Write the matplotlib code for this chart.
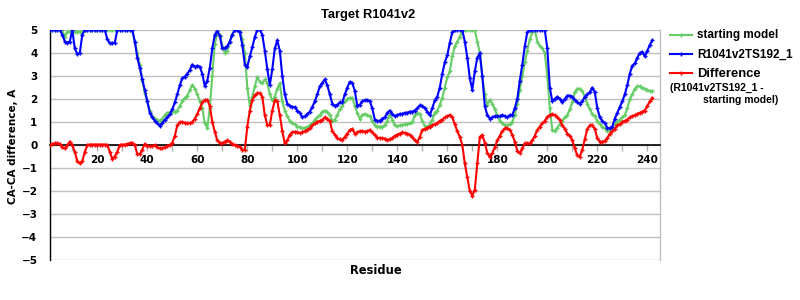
import matplotlib
matplotlib.use('Agg')
import matplotlib.pyplot as plt
from matplotlib.lines import Line2D
from matplotlib.ticker import FixedLocator

residues = list(range(1, 243))

starting_model = [
    5.0, 5.0, 5.0, 5.0, 5.0, 5.0, 4.7, 4.92, 4.93, 4.93,
    4.93, 4.93, 4.93, 4.93, 5.0, 5.0, 5.0, 5.0, 5.0, 5.0,
    5.0, 5.0, 5.0, 5.0, 5.0, 5.0, 5.0, 5.0, 5.0, 5.0,
    5.0, 5.0, 5.0, 5.0, 4.5, 4.0, 3.5, 2.8, 2.25, 1.9,
    1.5, 1.25, 1.15, 1.1, 1.05, 1.15, 1.3, 1.4, 1.42, 1.42,
    1.45, 1.5, 1.7, 1.9, 2.05, 2.15, 2.4, 2.6, 2.45, 2.2,
    1.9, 1.6, 0.95, 0.75, 1.6, 3.0, 4.4, 4.85, 4.8, 4.3,
    4.0, 4.1, 4.5, 4.8, 5.0, 5.0, 5.0, 4.6, 4.0, 2.5,
    1.7, 2.1, 2.55, 2.95, 2.75, 2.7, 2.85, 2.7, 2.2, 1.95,
    2.1, 2.45, 2.68, 1.9, 1.5, 1.25, 1.05, 0.95, 0.9, 0.8,
    0.77, 0.72, 0.75, 0.78, 0.85, 0.95, 1.1, 1.2, 1.3, 1.45,
    1.5, 1.45, 1.3, 1.05, 1.1, 1.3, 1.55, 1.7, 1.9, 2.0,
    2.05, 2.05, 1.7, 1.4, 1.15, 1.3, 1.35, 1.3, 1.25, 1.05,
    0.85, 0.8, 0.8, 0.8, 0.85, 1.05, 1.3, 1.1, 0.85, 0.82,
    0.85, 0.87, 0.9, 0.92, 0.95, 0.98, 1.3, 1.38, 1.35, 1.05,
    0.82, 0.8, 0.9, 1.1, 1.4, 1.5, 1.74, 2.05, 2.5, 2.95,
    3.2, 3.85, 4.3, 4.5, 4.7, 4.95, 5.0, 5.0, 5.0, 5.0,
    5.0, 4.5, 4.0, 3.0, 2.2, 1.75, 1.95, 1.8, 1.55, 1.3,
    1.05, 0.95, 0.85, 0.85, 0.9, 1.0, 1.3, 1.8, 2.4, 3.0,
    3.6, 4.1, 4.6, 4.9, 5.0, 4.5, 4.3, 4.2, 4.0, 3.0,
    1.6, 0.65, 0.6, 0.75, 0.9, 1.05, 1.2, 1.3, 1.55, 1.85,
    2.3, 2.45, 2.45, 2.35, 2.1, 1.8, 1.55, 1.35, 1.25, 1.05,
    0.9, 0.8, 0.72, 0.6, 0.65, 0.8, 0.9, 1.0, 1.1, 1.2,
    1.3, 1.6, 2.0, 2.2, 2.45, 2.55, 2.55, 2.5, 2.45, 2.4,
    2.35, 2.35,
]

ts192 = [
    5.0, 5.0, 5.0, 5.0, 5.0, 4.8, 4.5, 4.45, 4.5, 5.0,
    4.2, 3.95, 4.0, 4.8, 5.0, 5.0, 5.0, 5.0, 5.0, 5.0,
    5.0, 5.0, 5.0, 4.6, 4.42, 4.42, 4.45, 5.0, 5.0, 5.0,
    5.0, 5.0, 5.0, 5.0, 4.5, 3.8, 3.35, 2.85, 2.4, 1.9,
    1.4, 1.2, 1.05, 0.95, 0.84, 0.95, 1.1, 1.2, 1.33, 1.55,
    1.85, 2.2, 2.6, 2.9, 2.97, 3.1, 3.26, 3.5, 3.4, 3.45,
    3.4, 3.1, 2.55, 2.8, 3.35, 4.2, 4.8, 4.95, 4.75, 4.2,
    4.2, 4.3, 4.5, 4.8, 5.0, 5.0, 4.9, 4.35, 3.5, 3.4,
    3.85, 4.25, 4.7, 5.0, 5.0, 4.8, 4.1, 3.3, 2.6, 3.3,
    4.2, 4.55, 4.1, 3.0, 2.2, 1.8, 1.7, 1.65, 1.65, 1.5,
    1.4, 1.2, 1.25, 1.35, 1.45, 1.65, 1.9, 2.2, 2.55, 2.7,
    2.85, 2.6, 2.2, 1.8, 1.7, 1.75, 1.85, 1.85, 2.2, 2.5,
    2.75, 2.7, 2.35, 1.7, 1.75, 1.9, 1.95, 1.95, 1.9, 1.6,
    1.1, 1.05, 1.05, 1.15, 1.2, 1.4, 1.5, 1.35, 1.25, 1.3,
    1.35, 1.35, 1.4, 1.4, 1.45, 1.45, 1.5, 1.6, 1.72, 1.7,
    1.6, 1.45, 1.3, 1.6, 1.95, 2.1, 2.5, 3.1, 3.6, 3.9,
    4.45, 4.9, 5.0, 5.0, 5.0, 5.0, 4.5, 3.8, 2.9, 2.4,
    3.2, 3.8, 4.0, 3.0, 1.7, 1.3, 1.15, 1.2, 1.25, 1.25,
    1.25, 1.3, 1.25, 1.2, 1.3, 1.3, 1.6, 2.0, 2.8, 3.5,
    4.3, 4.9, 5.0, 5.0, 5.0, 5.0, 5.0, 5.0, 5.0, 4.2,
    2.5, 1.9, 2.0, 2.1, 2.0, 1.85, 2.0, 2.15, 2.15, 2.1,
    1.95, 1.85, 1.8, 1.9, 2.1, 2.2, 2.3, 2.5, 2.3, 1.6,
    1.2, 1.05, 0.95, 0.75, 0.72, 0.8, 1.15, 1.4, 1.65, 1.9,
    2.2, 2.6, 3.1, 3.45, 3.55, 3.8, 4.0, 4.05, 3.85, 4.1,
    4.35, 4.55,
]

difference = [
    0.0, 0.05, 0.07, 0.08, 0.05, -0.1, -0.15, 0.0, 0.15, 0.0,
    -0.3, -0.7, -0.8, -0.7, -0.3, 0.0, 0.02, 0.02, 0.02, 0.02,
    0.02, 0.02, 0.02, 0.0, -0.3, -0.6, -0.5, -0.3, 0.0, 0.02,
    0.02, 0.05, 0.08, 0.1, 0.0, -0.4, -0.4, -0.2, 0.05, -0.05,
    -0.05, -0.05, 0.0, -0.1, -0.15, -0.15, -0.1, -0.05, 0.0, 0.1,
    0.4, 0.85, 1.0, 1.0, 0.97, 0.95, 0.94, 1.0, 1.15, 1.35,
    1.6, 1.85, 1.96, 1.96, 1.7, 1.0, 0.58, 0.2, 0.1, 0.07,
    0.15, 0.2, 0.14, 0.05, 0.0, -0.05, -0.07, -0.2, -0.22, 0.8,
    1.5, 1.95, 2.17, 2.25, 2.25, 2.1, 1.3, 0.87, 0.87, 1.5,
    1.95, 1.9, 1.3, 0.6, 0.07, 0.2, 0.45, 0.55, 0.58, 0.55,
    0.52, 0.55, 0.6, 0.65, 0.72, 0.85, 0.95, 1.0, 1.05, 1.1,
    1.2, 1.15, 1.05, 0.6, 0.45, 0.3, 0.25, 0.22, 0.35, 0.5,
    0.65, 0.7, 0.5, 0.55, 0.6, 0.6, 0.58, 0.6, 0.65, 0.55,
    0.43, 0.32, 0.3, 0.3, 0.28, 0.22, 0.25, 0.3, 0.4, 0.45,
    0.5, 0.55, 0.52, 0.5, 0.45, 0.35, 0.2, 0.15, 0.35, 0.65,
    0.7, 0.75, 0.8, 0.85, 0.9, 0.95, 1.05, 1.1, 1.2, 1.25,
    1.3, 1.2, 0.9, 0.6, 0.35, 0.0, -0.8, -1.4, -2.0, -2.2,
    -1.95, -0.8, 0.35, 0.43, 0.1, -0.35, -0.5, -0.35, -0.1, 0.2,
    0.4, 0.6, 0.72, 0.72, 0.65, 0.45, 0.14, -0.25, -0.36, -0.15,
    0.07, 0.07, 0.07, 0.2, 0.4, 0.65, 0.8, 0.94, 1.05, 1.23,
    1.3, 1.33, 1.3, 1.2, 1.09, 0.85, 0.7, 0.5, 0.4, 0.2,
    -0.15, -0.45, -0.5, -0.2, 0.25, 0.7, 0.85, 0.85, 0.7, 0.3,
    0.15, 0.14, 0.18, 0.3, 0.5, 0.6, 0.7, 0.85, 0.9, 1.0,
    1.05, 1.1, 1.2, 1.25, 1.3, 1.35, 1.4, 1.45, 1.5, 1.7,
    1.9, 2.05,
]

x_tick_labels = [str(v) for v in range(20, 241, 20)]
y_ticks = list(range(-5, 6))

GREEN = '#66cc66'
BLUE = '#0000ff'
RED = '#ff0000'
GRID = '#c0c0c0'

W, H = 800, 300
fig = plt.figure(figsize=(8, 3), dpi=100)
fig.patch.set_facecolor('white')

def fx(px):
    return px / W

def fy(py):
    return 1 - py / H

ax = fig.add_axes([fx(50), fy(260), fx(660) - fx(50), fy(30) - fy(260)])
ax.set_xlim(1.08, 245.08)
ax.set_ylim(-5, 5)

ax.set_yticks(y_ticks)
ax.yaxis.grid(True, color=GRID, lw=1.0)
ax.set_axisbelow(True)

ax.spines['top'].set_visible(False)
ax.spines['right'].set_color(GRID)
ax.spines['right'].set_linewidth(1.0)
ax.spines['left'].set_color('black')
ax.spines['left'].set_linewidth(1.0)
ax.spines['bottom'].set_position(('data', 0))
ax.spines['bottom'].set_color('black')
ax.spines['bottom'].set_linewidth(1.2)

ax.xaxis.set_major_locator(FixedLocator(list(range(20, 241, 20))))
ax.xaxis.set_minor_locator(FixedLocator(list(range(10, 241, 20))))
ax.set_xticklabels(x_tick_labels)
ax.tick_params(axis='x', which='both', direction='out', length=4,
               color='#b0b0b0', width=1, pad=3)
ax.tick_params(axis='y', length=0, pad=9)
for lab in ax.get_xticklabels() + ax.get_yticklabels():
    lab.set_fontfamily('DejaVu Sans')
    lab.set_fontweight('bold')
    lab.set_fontsize(7.5)

line_kw = dict(lw=1.5, marker='+', markersize=3, markeredgewidth=1, zorder=3)
ax.plot(residues, starting_model, color=GREEN, **line_kw)
ax.plot(residues, ts192, color=BLUE, **line_kw)
ax.plot(residues, difference, color=RED, **line_kw)

fig.text(fx(368), fy(15), 'Target R1041v2', ha='center', va='center',
         fontsize=9.3, fontweight='bold', family='Liberation Sans')
fig.text(fx(13), fy(146.5), 'CA-CA difference, A', ha='center', va='center',
         rotation=90, fontsize=7.5, fontweight='bold', family='DejaVu Sans')
fig.text(fx(376), fy(270), 'Residue', ha='center', va='center',
         fontsize=8.3, fontweight='bold', family='DejaVu Sans')

legend_rows = [
    (35, GREEN, 'starting model', 8.5),
    (54.3, BLUE, 'R1041v2TS192_1', 8.5),
    (72.7, RED, 'Difference', 9.4),
]
for py, col, label, fs in legend_rows:
    fig.add_artist(Line2D([fx(670), fx(692)], [fy(py), fy(py)], color=col,
                          lw=1.5, transform=fig.transFigure))
    fig.add_artist(Line2D([fx(681)], [fy(py)], color=col, marker='+',
                          markersize=3, markeredgewidth=1, transform=fig.transFigure))
    tpy = py + 1 if label == 'Difference' else py
    fig.text(fx(697), fy(tpy), label, ha='left', va='center', fontsize=fs,
             fontweight='bold', family='Liberation Sans')
fig.text(fx(670), fy(88.3), '(R1041v2TS192_1 -', ha='left', va='center',
         fontsize=7.5, fontweight='bold', family='Liberation Sans')
fig.text(fx(703), fy(100), 'starting model)', ha='left', va='center',
         fontsize=7.5, fontweight='bold', family='Liberation Sans')

fig.savefig('out.png', dpi=100, facecolor='white')
